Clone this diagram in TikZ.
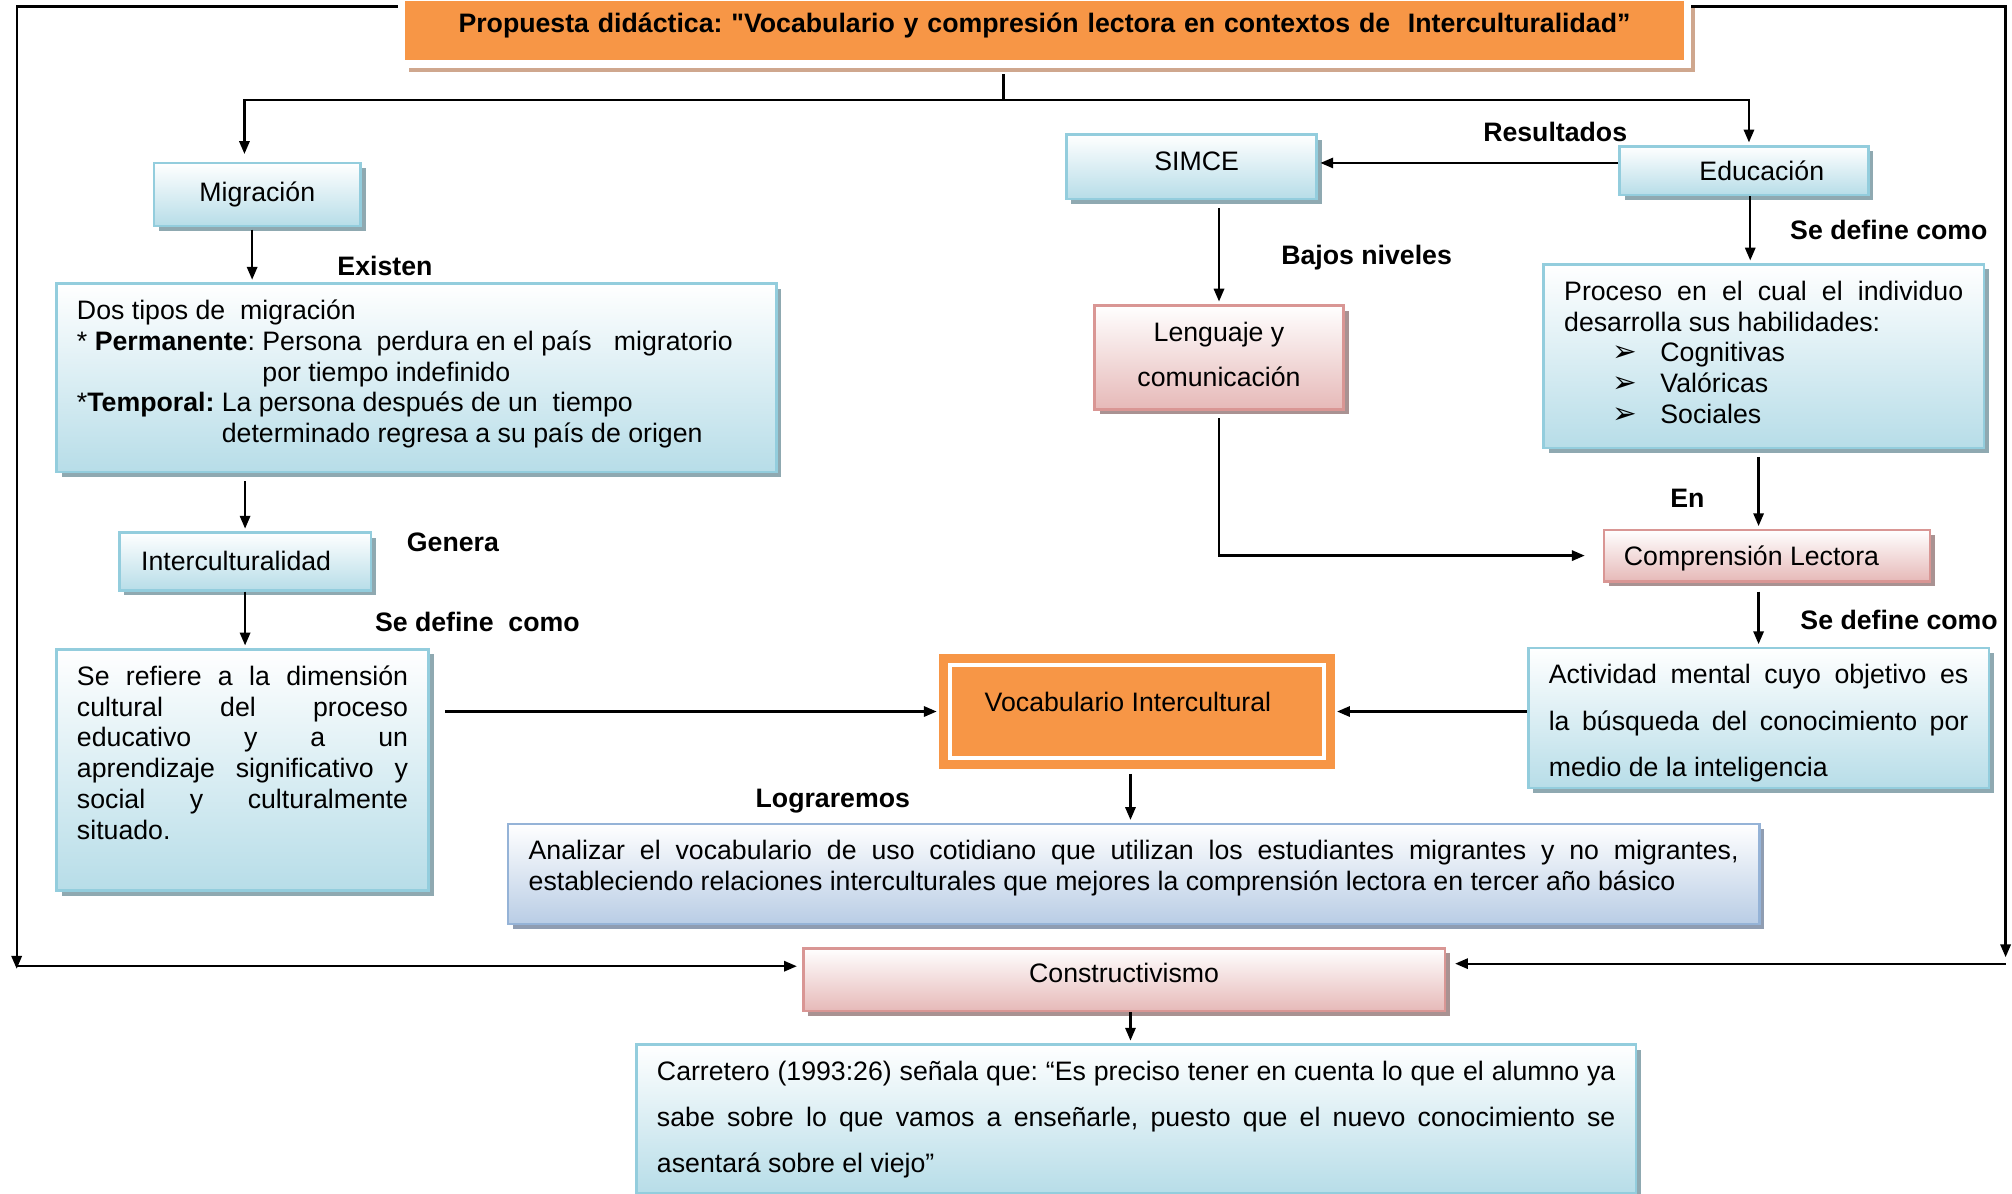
\documentclass[tikz,border=0pt]{standalone}
\usepackage{fontspec}
\setmainfont{Liberation Sans}
\newfontfamily\plainfont{Liberation Sans}
\newfontfamily\symfont{DejaVu Sans}
\usetikzlibrary{arrows.meta,shadows}
\definecolor{azulfondo}{HTML}{B7DDE8}
\definecolor{azulborde}{HTML}{93CDDD}
\definecolor{azulsombra}{HTML}{8FA9B1}
\definecolor{rosafondo}{HTML}{E6B9B8}
\definecolor{rosaborde}{HTML}{D99694}
\definecolor{rosasombra}{HTML}{A99292}
\definecolor{lilafondo}{HTML}{B9CDE5}
\definecolor{lilaborde}{HTML}{95B3D7}
\definecolor{lilasombra}{HTML}{8F9DB2}
\definecolor{naranja}{HTML}{F79646}
\definecolor{canela}{HTML}{CFA78E}
\begin{document}
\begin{tikzpicture}[x=1pt, y=1pt,
  txt/.style={font=\fontsize{10.4}{12}\selectfont\frenchspacing},
  txtw/.style={font=\fontsize{10.4}{18}\selectfont\frenchspacing},
  lbl/.style={font=\fontsize{10.4}{12}\selectfont\bfseries\frenchspacing},
  caja/.style={txt, line width=1pt, inner sep=0pt},
  azul/.style={caja, draw=azulborde, top color=white, bottom color=azulfondo,
    drop shadow={shadow xshift=2pt, shadow yshift=-2pt, fill=azulsombra, opacity=1}},
  rosa/.style={caja, draw=rosaborde, top color=white, bottom color=rosafondo,
    drop shadow={shadow xshift=2pt, shadow yshift=-2pt, fill=rosasombra, opacity=1}},
  lila/.style={caja, draw=lilaborde, top color=white, bottom color=lilafondo,
    drop shadow={shadow xshift=2pt, shadow yshift=-2pt, fill=lilasombra, opacity=1}},
  bloque/.style={anchor=north west, align=flush left, inner xsep=8pt, inner ysep=5pt, text height=9pt},
  arr/.style={-{Triangle[length=5pt,width=4pt]}, line width=0.9pt, shorten >=1pt}]
\def\flecha{{\symfont\fontsize{11.5}{12}\selectfont ➢}}
\def\just#1{\makebox[\hsize][s]{\spaceskip=0pt\xspaceskip=0pt\relax #1}}
\useasboundingbox (0,0) rectangle (784,-465);

\node[lbl, anchor=north west, align=center, fill=naranja, draw=white, line width=3pt,
  inner xsep=0pt, inner ysep=3pt, text width=501pt, text height=10.7pt, text depth=9.3pt,
  drop shadow={shadow xshift=3pt, shadow yshift=-3pt, fill=canela, opacity=1}]
  (titulo) at (155,2.5) {Propuesta didáctica: {\plainfont\bfseries"}Vocabulario y compresión lectora en contextos de\ \ Interculturalidad”};

\node[azul, minimum width=80.5pt, minimum height=24.5pt] (migracion) at (100.25,-75.75) {Migración};
\node[azul, bloque, text width=264.5pt, text depth=54.5pt] (tipos) at (21.5,-110)
  {Dos tipos de\ \ migración\\{}
   * \textbf{Permanente}: Persona\ \ perdura en el país\ \ \ migratorio\\
   \phantom{* \textbf{Permanente}: }por tiempo indefinido\\{}
   *\textbf{Temporal:} La persona después de un\ \ tiempo\\
   \phantom{*\textbf{Temporal:} }determinado regresa a su país de origen};
\node[azul, minimum width=98pt, minimum height=22.5pt] (intercult) at (95.5,-218.75) {Interculturalidad\hspace*{7pt}};
\node[azul, bloque, text width=129pt, text depth=75pt] (refiere) at (21.5,-252.5)
  {\just{Se refiere a la dimensión}\\
   \just{cultural del proceso}\\
   \just{educativo y a un}\\
   \just{aprendizaje significativo y}\\
   \just{social y culturalmente}\\
   situado.};

\node[txt, fill=naranja, draw=white, line width=1.5pt, outer sep=4.25pt,
  minimum width=145.5pt, minimum height=36pt, text height=7.5pt, text depth=7.5pt,
  preaction={draw=naranja, line width=8.5pt}] (vocab) at (443,-277.25) {Vocabulario Intercultural\hspace*{7pt}};
\node[lila, bloque, text width=471.5pt, text depth=20pt] (analizar) at (197.5,-320.5)
  {\just{Analizar el vocabulario de uso cotidiano que utilizan los estudiantes migrantes y no migrantes,}\\
   estableciendo relaciones interculturales que mejores la comprensión lectora en tercer año básico};
\node[rosa, minimum width=250pt, minimum height=24.5pt, text height=7.5pt, text depth=5pt] (constructiv) at (438,-381.75) {Constructivismo};
\node[azul, bloque, txtw, text width=373.5pt, text depth=39pt] (carretero) at (247.5,-406.5)
  {\just{Carretero (1993:26) señala que: “Es preciso tener en cuenta lo que el alumno ya}\\
   \just{sabe sobre lo que vamos a enseñarle, puesto que el nuevo conocimiento se}\\
   asentará sobre el viejo”};

\node[azul, minimum width=97.5pt, minimum height=25pt, text height=7.5pt, text depth=5pt] (simce) at (464.25,-65) {\hspace*{4pt}SIMCE};
\node[azul, minimum width=97pt, minimum height=19pt] (educacion) at (679.5,-66.5) {\hspace*{14pt}Educación};
\node[rosa, bloque, align=flush center, font=\fontsize{10.4}{17.5}\selectfont, text width=81pt,
  text depth=21.5pt] (lenguaje) at (426,-118.5) {Lenguaje y\\ comunicación};
\node[azul, bloque, text width=155.5pt, text depth=52.5pt] (proceso) at (601,-102.5)
  {\just{Proceso en el cual el individuo}\\
   desarrolla sus habilidades:\\
   \hspace*{19pt}\makebox[18.5pt][l]{\flecha}Cognitivas\\
   \hspace*{19pt}\makebox[18.5pt][l]{\flecha}Valóricas\\
   \hspace*{19pt}\makebox[18.5pt][l]{\flecha}Sociales};
\node[rosa, minimum width=127pt, minimum height=20pt, text height=10pt, text depth=2.2pt] (comprension) at (688.5,-216.5) {Comprensión Lectora\hspace*{12pt}};
\node[azul, bloque, txtw, text width=163.5pt, text depth=35.5pt] (actividad) at (595,-252)
  {\just{Actividad mental cuyo objetivo es}\\
   \just{la búsqueda del conocimiento por}\\
   medio de la inteligencia};

\node[lbl] (existen) at (150,-103.5) {Existen};
\node[lbl] (genera) at (176.5,-211.5) {Genera};
\node[lbl] (sedefine1) at (186,-242.5) {Se define\ \ como};
\node[lbl] (lograremos) at (324.5,-312) {Lograremos};
\node[lbl] (resultados) at (606,-51.5) {Resultados};
\node[lbl] (bajos) at (532.5,-100.5) {Bajos niveles};
\node[lbl] (sedefine2) at (736,-89.5) {Se define como};
\node[lbl] (en) at (657.5,-194) {En};
\node[lbl] (sedefine3) at (740,-241.5) {Se define como};

\coordinate (lt) at (6.5,-2.5);
\coordinate (lb) at (6.5,-376.5);
\coordinate (rt) at (781.5,-2.5);
\coordinate (rb) at (781.5,-375.5);
\coordinate (tj) at (391,-39);

\draw[line width=0.9pt, shorten <=2.5pt] (tj |- titulo.south) -- (tj);
\draw[arr, shorten >=3pt] (tj) -| ([xshift=-5pt]migracion.north);
\draw[arr] (tj) -| ([xshift=2pt]educacion.north);
\draw[arr, shorten <=1pt] ([xshift=-2pt]migracion.south) -- ([xshift=-2pt]migracion.south |- tipos.north);
\draw[arr, shorten <=3pt] (intercult.north |- tipos.south) -- (intercult.north);
\draw[arr] (intercult.south) -- (intercult.south |- refiere.north);
\draw[arr, shorten <=6pt] (refiere.east |- vocab.west) -- (vocab.west);
\draw[arr] (actividad.west |- vocab.east) -- (vocab.east);
\draw[arr, shorten <=2pt] ([xshift=-2.5pt]vocab.south) -- ([xshift=-2.5pt]vocab.south |- analizar.north);
\draw[arr] ([xshift=2.5pt]constructiv.south) -- ([xshift=2.5pt]constructiv.south |- carretero.north);
\draw[arr] ([yshift=3pt]educacion.west) -- ([yshift=3pt]educacion.west -| simce.east);
\draw[arr] ([xshift=2.5pt]educacion.south) -- ([xshift=2.5pt]educacion.south |- proceso.north);
\draw[arr, shorten <=3pt] (lenguaje.north |- simce.south) -- (lenguaje.north);
\draw[arr, shorten <=3pt, shorten >=7pt] (lenguaje.south) |- (comprension.west);
\draw[arr, shorten <=3pt] ([xshift=-2pt]proceso.south) -- ([xshift=-2pt]proceso.south |- comprension.north);
\draw[arr, shorten <=3.5pt] (actividad.north |- comprension.south) -- (actividad.north);
\draw[arr] (titulo.west |- lt) -- (lt) -- ([yshift=-2pt]lb);
\draw[arr, shorten >=2pt] (lb) -- (lb -| constructiv.west);
\draw[arr] (titulo.east |- rt) -- (rt) -- ([yshift=1.5pt]rb);
\draw[arr, shorten >=3.5pt] (rb) -- (rb -| constructiv.east);
\end{tikzpicture}
\end{document}
